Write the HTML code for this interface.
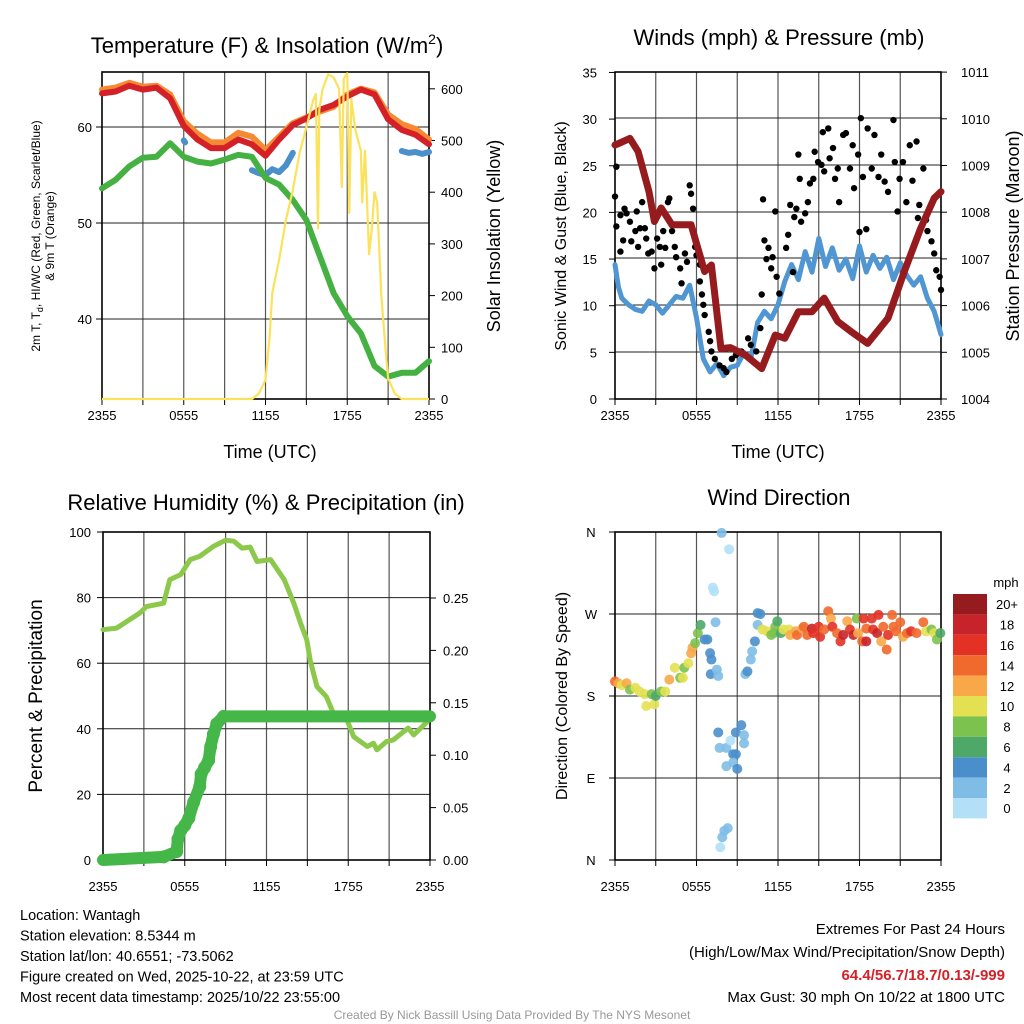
<!DOCTYPE html>
<html><head><meta charset="utf-8">
<style>
html,body{margin:0;padding:0;background:#fff;}
svg{display:block;font-family:"Liberation Sans",sans-serif;}
</style></head>
<body>
<svg id="chart" width="1024" height="1024" viewBox="0 0 1024 1024" xmlns="http://www.w3.org/2000/svg">
<g id="bg"></g>
</svg>
<script>
// ---------- Panel 1 data ----------
const hours = [0,1,2,3,4,5,6,7,8,9,10,11,12,13,14,15,16,17,18,19,20,21,22,23,24];
const temp2m = [63.5,63.7,64.3,63.9,64.1,63.0,60.1,58.7,57.8,57.8,58.7,58.2,57.0,58.7,60.2,60.9,61.8,62.3,63.2,63.9,63.4,60.8,59.7,59.2,58.2];
const temp9m = [63.9,64.1,64.6,64.2,64.3,63.4,60.6,59.3,58.4,58.4,59.4,59.0,57.6,59.0,60.4,61.0,61.6,62.1,63.4,64.0,63.6,61.3,60.3,59.8,58.7];
const dewpt = [53.6,54.5,55.9,56.8,56.9,58.3,56.9,56.4,56.2,56.6,57.1,56.9,54.7,54.0,52.4,50.3,46.5,42.7,40.3,38.5,35.1,34.0,34.4,34.4,35.6];
const chillT = [6,6.1,11,11.5,12,12.5,13,13.5,14,22,22.5,23,23.5,24];
const chillV = [58.6,58.4,55.5,55.2,55.0,55.6,55.3,56.0,57.3,57.5,57.3,57.4,57.2,57.4];
const solarT = [0,11,11.5,12,12.3,12.5,13,13.5,14,14.5,15,15.5,15.7,15.85,15.95,16.2,16.6,17,17.4,17.6,17.75,18,18.15,18.3,18.6,19,19.1,19.3,19.6,19.8,20,20.2,20.5,20.8,21,21.5,22,24];
const solarW = [0,0,10,37,120,205,269,346,404,476,526,578,590,330,560,600,628,622,600,410,620,630,360,580,520,480,380,480,280,330,400,380,200,100,40,10,0,0];
// ---------- Panel 2 data ----------
const windT = [0,0.25,0.5,1,1.5,2,2.5,3,3.5,4,4.5,5,5.5,6,6.5,7,7.5,8,8.5,9,9.5,10,10.5,11,11.5,12,12.5,13,13.5,14,14.5,15,15.5,16,16.5,17,17.5,18,18.5,19,19.5,20,20.5,21,21.5,22,22.5,23,23.5,24];
const windV = [14.4,12.0,10.8,10.1,9.6,9.4,10.5,10.1,9.2,10.1,11.0,10.8,12.2,8.7,4.3,2.9,3.8,2.5,3.4,3.6,5.0,4.3,8.2,9.4,8.6,10.1,12.6,14.4,12.8,15.8,13.6,17.2,14.2,16.2,13.8,15.0,12.9,16.4,13.6,15.4,14.0,15.2,12.8,14.6,13.2,12.2,13.1,10.8,9.4,6.9];
const presT = [0,0.5,1.1,1.7,2.5,2.9,3.4,4.2,5.6,6.6,7.1,7.8,8.5,9.6,10.8,11.8,12.5,13.5,14.5,15.4,16.4,17.4,18.6,20.1,21.3,22.5,23.5,24];
const presV = [1009.44,1009.5,1009.58,1009.3,1008.44,1007.8,1008.09,1007.73,1007.73,1006.73,1006.87,1005.08,1005.1,1004.94,1004.65,1005.37,1005.3,1005.87,1005.87,1006.16,1005.66,1005.44,1005.19,1005.73,1006.73,1007.65,1008.3,1008.44];
const gustT = [0,0.1,0.1,0.4,0.4,0.6,0.7,0.85,1.1,1.2,1.5,1.6,1.7,1.85,2.0,2.2,2.3,2.45,2.7,2.9,3.1,3.3,3.4,3.55,3.7,3.9,4.0,4.2,4.4,4.5,4.8,4.9,5.15,5.3,5.5,5.6,5.75,5.9,6.0,6.25,6.25,6.4,6.5,6.6,6.9,7.0,7.1,7.35,7.7,8.0,8.2,8.6,8.9,9.3,9.8,10.0,10.4,10.7,10.8,10.9,11.0,11.15,11.3,11.5,11.6,11.8,11.9,12.1,12.6,12.75,12.9,13.1,13.2,13.35,13.5,13.6,13.7,14.0,14.2,14.35,14.6,14.7,14.95,15.2,15.3,15.4,15.7,15.8,16.05,16.2,16.4,16.5,16.8,17.0,17.3,17.5,17.6,17.9,18.0,18.1,18.25,18.5,18.6,18.9,19.1,19.4,19.6,19.85,20.1,20.5,20.6,20.8,20.95,21.2,21.45,21.7,21.9,22.2,22.3,22.4,22.7,22.9,23.0,23.3,23.5,23.65,23.9,24.0];
const gustV = [21.7,24.9,18.5,19.7,15.8,17.0,20.4,19.9,19.0,16.9,18.0,20.1,16.3,18.3,21.1,18.3,17.2,15.6,15.8,14.0,17.2,16.3,14.4,18.0,16.2,21.1,21.5,18.0,16.3,15.2,14.0,12.4,15.6,14.7,22.9,22.0,20.4,16.3,15.4,14.4,12.6,11.2,10.1,9.0,7.2,6.2,5.1,4.3,3.6,3.3,2.9,4.3,4.7,5.1,6.5,5.8,5.1,7.6,11.2,21.4,17.0,15.0,16.2,14.0,15.2,20.1,13.1,11.3,16.2,17.6,20.8,13.6,19.5,20.4,26.2,23.6,19.0,19.9,21.1,23.1,23.6,26.5,25.4,25.1,28.6,24.4,29.0,25.8,26.9,23.6,24.7,21.1,28.3,28.5,24.7,27.2,22.6,26.2,17.9,30.1,23.8,18.2,29.0,24.7,28.3,23.8,26.2,23.3,22.2,29.9,25.4,20.1,23.6,25.4,21.1,27.2,23.4,27.6,19.4,20.8,24.7,19.2,18.0,16.9,15.6,13.8,13.1,11.7];
// ---------- Panel 3 data ----------
const rhT = [0,1.0,1.75,2.7,3.2,4.45,4.9,5.7,6.4,7.1,8.1,9.0,9.6,10.2,10.8,11.3,12.3,13.3,14.0,14.5,14.96,15.2,15.7,16.4,16.9,17.9,18.4,19.4,19.85,20.1,20.8,21.3,22.4,22.8,23.8,24];
const rhV = [70.2,70.7,72.7,75.3,77.3,78.3,85.5,87,91.6,92.6,95.6,97.5,97.2,95.1,95.4,91,91.6,85.5,78.3,72.2,67.1,61,52.9,49.8,44.8,42.7,37.6,34.6,35.6,33.6,36.1,36.6,40.2,38.1,42.2,43.7];
const precT = [0,4.45,5.4,5.5,5.7,6.0,6.3,6.65,7.1,7.2,7.45,7.75,7.9,8.1,8.35,8.85,24];
const precV = [0,0.003,0.008,0.02,0.028,0.033,0.04,0.055,0.07,0.082,0.088,0.095,0.108,0.12,0.13,0.137,0.137];
// ---------- Panel 4 data ----------
const dirT = [0,0.25,0.5,0.85,1.1,1.5,1.8,2.2,2.3,2.7,2.9,3.0,3.4,3.7,4.0,4.4,4.8,5.0,5.1,5.4,5.6,5.7,5.9,6.1,6.3,6.6,6.8,7.2,7.3,7.4,7.0,7.1,7.05,7.5,7.6,7.85,8.4,7.6,7.7,8.2,8.5,8.9,9.3,9.5,9.5,8.7,8.9,8.7,8.2,9.0,8.05,8.3,7.9,7.75,9.6,9.75,10.0,10.1,10.3,10.5,10.5,10.7,10.85,11.2,11.5,11.7,11.8,11.95,12.2,12.4,12.8,12.9,13.3,13.4,13.8,13.9,14.15,14.5,14.6,15.0,15.1,15.4,15.7,15.9,16.0,16.35,16.6,16.8,17.1,17.3,17.55,17.8,17.9,18.2,18.3,18.5,18.5,18.9,19.0,19.3,19.4,19.6,19.75,20.0,20.1,20.4,20.5,20.7,21.0,21.2,21.5,21.8,22.2,22.7,22.9,23.3,23.5,23.7,23.95];
const dirDeg = [196,194,192,194,187,189,185,182,169,182,171,180,185,185,198,211,200,200,211,216,227,233,238,249,258,242,242,299,295,261,227,220,204,209,202,359,341,140,123,123,131,140,148,137,128,116,116,107,103,100,32,35,25,14,204,207,220,229,240,258,271,270,253,251,247,249,256,262,249,253,253,247,251,247,254,256,247,254,249,256,245,253,273,265,256,249,240,247,262,253,247,265,249,240,265,254,240,265,253,249,269,240,256,231,247,269,256,251,261,245,249,251,249,261,251,253,249,242,249];
const dirSpd = [14,13,10,12,8,10,10,10,10,8,10,6,8,10,12,10,8,10,8,10,12,12,8,8,6,4,4,0,0,2,4,4,4,2,2,2,0,4,2,2,0,4,4,2,2,4,4,2,2,4,2,2,2,0,2,4,2,2,4,2,4,4,10,10,8,8,8,6,6,10,10,12,12,14,12,14,14,18,16,16,16,14,14,12,16,14,16,18,12,16,18,8,12,14,16,14,18,16,16,18,16,12,14,14,16,14,14,14,14,12,14,16,14,14,10,8,10,8,6];
const cbLabels = ["20+","18","16","14","12","10","8","6","4","2","0"];
const cbColors = ["#951b1e","#c6232a","#e33225","#ef6a2c","#f8a849","#e3e151","#7cc24e","#4ea868","#4a8fcb","#7fbde6","#b3e0f7"];

const NS = "http://www.w3.org/2000/svg";
const svg = document.getElementById('chart');
function mk(tag, attrs, parent, text){
  const e = document.createElementNS(NS, tag);
  for (const k in attrs) e.setAttribute(k, attrs[k]);
  if (text !== undefined) e.textContent = text;
  (parent||svg).appendChild(e);
  return e;
}
function xAxis(x0,x1){ return h => x0 + h/24*(x1-x0); }
function pathD(ts, vs, fx, fy){
  let d=""; let pen=false;
  for(let i=0;i<ts.length;i++){ if(vs[i]===null){pen=false;continue;}
    d += (pen?"L":"M")+fx(ts[i]).toFixed(1)+","+fy(vs[i]).toFixed(1); pen=true; }
  return d;
}
function frame(x0,y0,x1,y1,hGrid){
  const g = mk('g',{});
  
  
  for(let k=1;k<8;k++){ const x=x0+k*(x1-x0)/8;
    mk('line',{x1:x,y1:y0,x2:x,y2:y1,stroke:'#555','stroke-width':1.2},g); }
  hGrid.forEach(y=>mk('line',{x1:x0,y1:y,x2:x1,y2:y,stroke:'#222','stroke-width':1},g));
  const r = mk('rect',{x:x0,y:y0,width:x1-x0,height:y1-y0,fill:'none',stroke:'#000','stroke-width':1.6});
  
  
}
function xTicks(x0,x1,y1,ly){
  const labs=["2355","0555","1155","1755","2355"];
  for(let k=0;k<=8;k++){ const x=x0+k*(x1-x0)/8; mk('line',{x1:x,y1:y1,x2:x,y2:y1+6,stroke:'#000'}); }
  labs.forEach((l,i)=>{ const t=mk('text',{x:x0+i*(x1-x0)/4,y:ly,'font-size':13,'text-anchor':'middle'},svg,l);
    
     });
}
function yLabel(x,y,txt,size,name){
  const t=mk('text',{x:x,y:y,'font-size':size,'text-anchor':'middle',transform:`rotate(-90 ${x} ${y})`},svg,txt);
  
  
  return t;
}
function title(x,y,txt,name){
  const t=mk('text',{x:x,y:y,'font-size':22,'text-anchor':'middle'},svg,txt);
  
  
  return t;
}

// ===== Panel 1 =====
{
  const fx = xAxis(102,429);
  const fyT = v => 127 + (60-v)*9.6;
  const fyS = w => 399 - w*0.517;
  frame(102,72,429,399,[127,223,319]);
  [40,50,60].forEach(v=>{ const y=fyT(v); mk('line',{x1:96,y1:y,x2:102,y2:y,stroke:'#000'});
    const t=mk('text',{x:92,y:y+5,'font-size':13,'text-anchor':'end'},svg,String(v));
    
     });
  [0,100,200,300,400,500,600].forEach(v=>{ const y=fyS(v); mk('line',{x1:429,y1:y,x2:435,y2:y,stroke:'#000'});
    const t=mk('text',{x:441,y:y+5,'font-size':13},svg,String(v));
    
     });
  xTicks(102,429,399,420);
  const o=mk('path',{d:pathD(hours,temp9m,fx,fyT),fill:'none',stroke:'#f58a32','stroke-width':6,'stroke-linejoin':'round','stroke-linecap':'round'});
  
  
  const r=mk('path',{d:pathD(hours,temp2m,fx,fyT),fill:'none',stroke:'#d42027','stroke-width':6,'stroke-linejoin':'round','stroke-linecap':'round'});
  
  
  const c=mk('path',{d:pathD(chillT,chillV,fx,fyT).replace(/L([0-9.]+,[0-9.]+)M/g,'L$1M'),fill:'none',stroke:'#4b8fcb','stroke-width':6,'stroke-linejoin':'round','stroke-linecap':'round'});
  
  
  // break chill into segments (gaps)
  c.setAttribute('d', (function(){ let d=""; for(let i=0;i<chillT.length;i++){ const gap = i===0 || chillT[i]-chillT[i-1]>3; d+=(gap?"M":"L")+fx(chillT[i]).toFixed(1)+","+fyT(chillV[i]).toFixed(1);} return d; })());
  const g=mk('path',{d:pathD(hours,dewpt,fx,fyT),fill:'none',stroke:'#45b142','stroke-width':6,'stroke-linejoin':'round','stroke-linecap':'round'});
  
  
  const s=mk('path',{d:pathD(solarT,solarW,fx,fyS),fill:'none',stroke:'#fbe25a','stroke-width':2.2,'stroke-linejoin':'round'});
  
  
  const t=title(267,53,'Temperature (F) & Insolation (W/m','temp-panel-title');
  mk('tspan',{'font-size':14,dy:-9},t,'2');
  mk('tspan',{dy:9},t,')');
  const a=mk('text',{x:270,y:458,'font-size':18,'text-anchor':'middle'},svg,'Time (UTC)');
  
  
  const yl=yLabel(40,236,'',12,'temp-y-axis-title');
  mk('tspan',{},yl,'2m T, T');
  mk('tspan',{'font-size':9,dy:3},yl,'d');
  mk('tspan',{dy:-3},yl,', HI/WC (Red, Green, Scarlet/Blue)');
  yLabel(54,236,'& 9m T (Orange)',12,'temp-y-axis-title-2');
  yLabel(500,236,'Solar Insolation (Yellow)',18,'solar-y-axis-title');
}

// ===== Panel 2 =====
{
  const fx = xAxis(615,941);
  const fyW = v => 399 - v*9.33;
  const fyP = p => 399 - (p-1004)*46.7;
  frame(615,72,941,399,[118,165,212,258,305,352]);
  [0,5,10,15,20,25,30,35].forEach(v=>{ const y=fyW(v); mk('line',{x1:609,y1:y,x2:615,y2:y,stroke:'#000'});
    const t=mk('text',{x:597,y:y+5,'font-size':13,'text-anchor':'end'},svg,String(v));
    
     });
  [1004,1005,1006,1007,1008,1009,1010,1011].forEach(v=>{ const y=fyP(v); mk('line',{x1:941,y1:y,x2:947,y2:y,stroke:'#000'});
    const t=mk('text',{x:961,y:y+5,'font-size':13},svg,String(v));
    
     });
  xTicks(615,941,399,420);
  const w=mk('path',{d:pathD(windT,windV,fx,fyW),fill:'none',stroke:'#4f96d2','stroke-width':5,'stroke-linejoin':'round','stroke-linecap':'round'});
  
  
  const gg=mk('g',{});
  
  
  for(let i=0;i<gustT.length;i++){
    const d=mk('circle',{cx:fx(gustT[i]),cy:fyW(gustV[i]),r:3.2,fill:'#000'},gg);
    
    
  }
  const p=mk('path',{d:pathD(presT,presV,fx,fyP),fill:'none',stroke:'#951b1e','stroke-width':7,'stroke-linejoin':'round','stroke-linecap':'round'});
  
  
  title(779,45,'Winds (mph) & Pressure (mb)','wind-panel-title');
  const a=mk('text',{x:778,y:458,'font-size':18,'text-anchor':'middle'},svg,'Time (UTC)');
  
  
  yLabel(566,236,'Sonic Wind & Gust (Blue, Black)',16,'wind-y-axis-title');
  yLabel(1019,236,'Station Pressure (Maroon)',18,'pressure-y-axis-title');
}

// ===== Panel 3 =====
{
  const fx = xAxis(103,430);
  const fyR = v => 860 - v*3.28;
  const fyP = v => 860 - v*1048;
  frame(103,532,430,860,[fyR(20),fyR(40),fyR(60),fyR(80)]);
  [0,20,40,60,80,100].forEach(v=>{ const y=fyR(v); mk('line',{x1:97,y1:y,x2:103,y2:y,stroke:'#000'});
    const t=mk('text',{x:91,y:y+5,'font-size':13,'text-anchor':'end'},svg,String(v));
    
     });
  ['0.00','0.05','0.10','0.15','0.20','0.25'].forEach(l=>{ const y=fyP(parseFloat(l)); mk('line',{x1:430,y1:y,x2:436,y2:y,stroke:'#000'});
    const t=mk('text',{x:443,y:y+5,'font-size':13},svg,l);
    
     });
  xTicks(103,430,860,891);
  const r=mk('path',{d:pathD(rhT,rhV,fx,fyR),fill:'none',stroke:'#8cc94b','stroke-width':5,'stroke-linejoin':'round','stroke-linecap':'round'});
  
  
  const pr=mk('path',{d:pathD(precT,precV,fx,fyP),fill:'none',stroke:'#45b648','stroke-width':12,'stroke-linejoin':'round','stroke-linecap':'round'});
  
  
  for(let i=1;i<precT.length-1;i++){
    const d=mk('circle',{cx:fx(precT[i]),cy:fyP(precV[i]),r:6.5,fill:'#45b648'});
    
    
  }
  title(266,510,'Relative Humidity (%) & Precipitation (in)','rh-panel-title');
  yLabel(42,696,'Percent & Precipitation',19,'rh-y-axis-title');
}

// ===== Panel 4 =====
{
  const fx = xAxis(615,941);
  const fyD = d => 860 - d*328/360;
  frame(615,532,941,860,[614,696,778]);
  const dl=['N','E','S','W','N'];
  dl.forEach((l,i)=>{ const y=fyD(i*90); mk('line',{x1:609,y1:y,x2:615,y2:y,stroke:'#000'});
    const t=mk('text',{x:591,y:y+5,'font-size':13,'text-anchor':'middle'},svg,l);
    
     });
  xTicks(615,941,860,891);
  const gg=mk('g',{});
  
  
  function col(s){ const idx = Math.min(10, Math.floor(s/2)); return cbColors[10-idx]; }
  for(let i=0;i<dirT.length;i++){
    const d=mk('circle',{cx:fx(dirT[i]),cy:fyD(dirDeg[i]),r:5,fill:col(dirSpd[i]),'fill-opacity':0.9},gg);
    
    
  }
  title(779,505,'Wind Direction','direction-panel-title');
  yLabel(567,696,'Direction (Colored By Speed)',16,'direction-y-axis-title');
  // colorbar
  const cb=mk('g',{});
  
  
  const top=594, bh=20.4;
  cbColors.forEach((c,i)=>{
    const r=mk('rect',{x:953,y:top+i*bh,width:34,height:bh,fill:c},cb);
    
    
    const t=mk('text',{x:1007,y:top+i*bh+bh/2+5,'font-size':13,'text-anchor':'middle'},svg,cbLabels[i]);
    
    
  });
  const u=mk('text',{x:1006,y:587,'font-size':13,'text-anchor':'middle'},svg,'mph');
  
  
}

// ===== Footer text =====
{
  const left=['Location: Wantagh','Station elevation: 8.5344 m','Station lat/lon: 40.6551; -73.5062','Figure created on Wed, 2025-10-22, at 23:59 UTC','Most recent data timestamp: 2025/10/22 23:55:00'];
  left.forEach((l,i)=>{ const t=mk('text',{x:20,y:920+i*20.5,'font-size':14.5},svg,l);
    
     });
  const r1=mk('text',{x:1005,y:934,'font-size':15,'text-anchor':'end'},svg,'Extremes For Past 24 Hours');
  
  
  const r2=mk('text',{x:1005,y:957,'font-size':15,'text-anchor':'end'},svg,'(High/Low/Max Wind/Precipitation/Snow Depth)');
  
  
  const r3=mk('text',{x:1005,y:980,'font-size':15,'text-anchor':'end','font-weight':'bold',fill:'#d42027'},svg,'64.4/56.7/18.7/0.13/-999');
  
  
  const r4=mk('text',{x:1005,y:1002,'font-size':15,'text-anchor':'end'},svg,'Max Gust: 30 mph On 10/22 at 1800 UTC');
  
  
  const f=mk('text',{x:512,y:1019,'font-size':12,'text-anchor':'middle',fill:'#999'},svg,'Created By Nick Bassill Using Data Provided By The NYS Mesonet');
  
  
}
</script>
</body></html>
